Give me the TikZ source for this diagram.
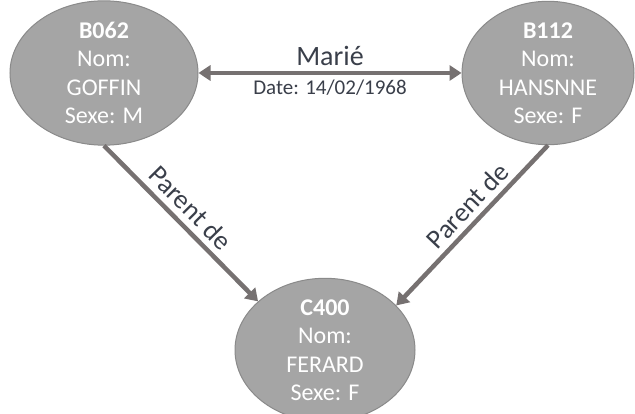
\documentclass[tikz,border=0pt]{standalone}
\usepackage{fontspec}
\setmainfont{Carlito}
\usetikzlibrary{shapes.geometric,arrows.meta}
\definecolor{nodefill}{HTML}{A5A5A5}
\definecolor{nodeedge}{HTML}{8A8A8A}
\definecolor{linkgray}{HTML}{767171}
\definecolor{labeltext}{HTML}{3A3F4A}
\tikzset{
  entity/.style={ellipse, fill=nodefill, draw=nodeedge, line width=1pt, inner sep=0pt,
    text=white, align=center, font=\fontsize{24}{28.5}\selectfont},
  link/.style={draw=linkgray, line width=4.5pt, -{Triangle[width=15pt,length=12pt]}},
  biglabel/.style={text=labeltext, font=\fontsize{28}{30}\selectfont},
  smalllabel/.style={text=labeltext, font=\fontsize{21}{24}\selectfont},
  rellabel/.style={text=labeltext, font=\fontsize{27}{29}\selectfont}
}
\begin{document}
\begin{tikzpicture}[x=1pt,y=-1pt]
\useasboundingbox[fill=white] (0,0) rectangle (635,414);
\node[entity, minimum width=188pt, minimum height=130pt] (b062) at (104,73)
  {\textbf{B062}\\Nom:\\GOFFIN\\Sexe: M};
\node[entity, minimum width=172pt, minimum height=130pt] (b112) at (548,73)
  {\textbf{B112}\\Nom:\\HANSNNE\\Sexe: F};
\node[entity, minimum width=180pt, minimum height=130pt] (c400) at (325,350)
  {\textbf{C400}\\Nom:\\FERARD\\Sexe: F};
\draw[link, {Triangle[width=15pt,length=12pt]}-{Triangle[width=15pt,length=12pt]}] (b062) -- (b112)
  node[midway, above=2pt, biglabel] (marie) {Marié}
  node[midway, below=1pt, smalllabel] (date) {Date: 14/02/1968};
\draw[link] (b062.south) -- (c400.144)
  node[pos=0.48, sloped, above=3pt, rellabel] (p1) {Parent de};
\draw[link] (b112.south) -- (c400.32)
  node[pos=0.45, sloped, above=2pt, rellabel] (p2) {Parent de};
\end{tikzpicture}
\end{document}
